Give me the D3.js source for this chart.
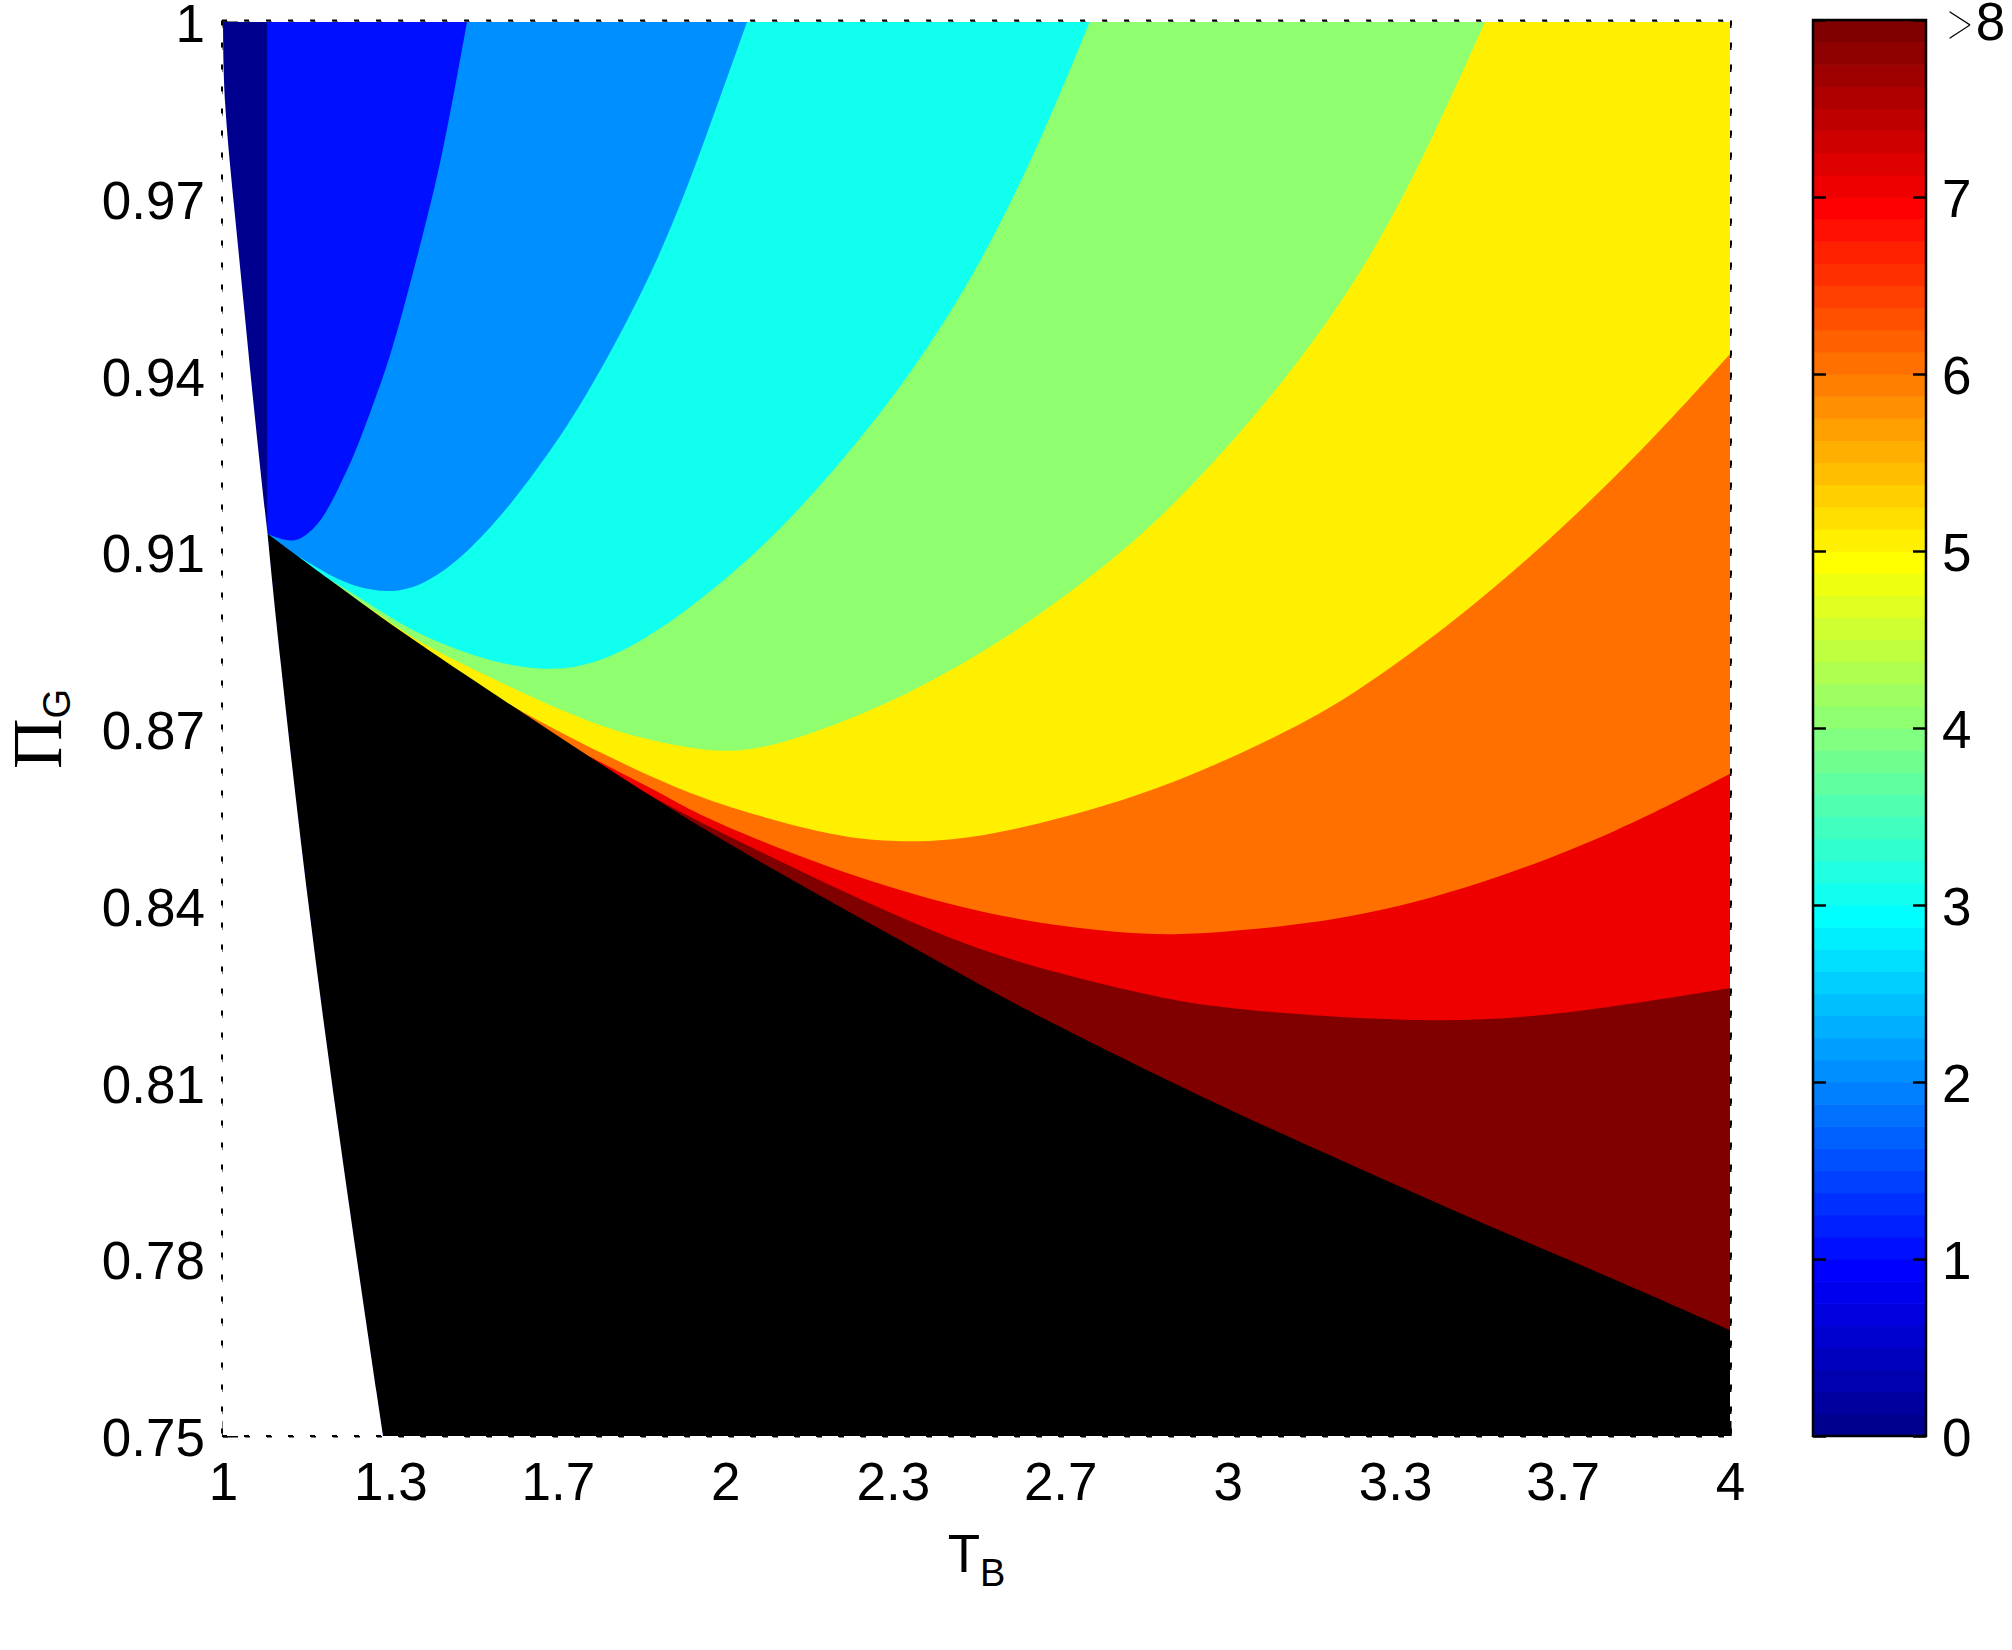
<!DOCTYPE html>
<html>
<head>
<meta charset="utf-8">
<script src="https://cdn.jsdelivr.net/npm/d3@7"></script>
<style>
  body { margin: 0; background: #fff; }
  text { font-family: "Liberation Sans", Arial, Helvetica, sans-serif; fill: #000; }
</style>
</head>
<body>
<svg id="chart" width="2012" height="1650"></svg>
<script>
/* tick values and labels */
var xTicks = [1, 4/3, 5/3, 2, 7/3, 8/3, 3, 10/3, 11/3, 4];
var xTickLabels = ["1", "1.3", "1.7", "2", "2.3", "2.7", "3", "3.3", "3.7", "4"];
var yTicks = [0.75, 0.78125, 0.8125, 0.84375, 0.875, 0.90625, 0.9375, 0.96875, 1];
var yTickLabels = ["0.75", "0.78", "0.81", "0.84", "0.87", "0.91", "0.94", "0.97", "1"];
var cbTicks = [0, 1, 2, 3, 4, 5, 6, 7, 8];
var cbTickLabels = ["0", "1", "2", "3", "4", "5", "6", "7", ">8"];
var levels = [1, 2, 3, 4, 5, 6, 7, 8];

/* contour lines, [T_B, Pi_G] */
var contour1 = [[1.088, 1.0], [1.088, 0.9095]];
var contour2 = [[1.4857, 1.0], [1.4618, 0.9883], [1.4300, 0.9737], [1.3962, 0.9618], [1.3623, 0.9502],
  [1.3305, 0.9401], [1.2966, 0.9318], [1.2628, 0.9237], [1.2309, 0.9177], [1.1971, 0.9118],
  [1.1632, 0.9090], [1.1394, 0.9081], [1.1135, 0.9086], [1.0886, 0.9095]];
var contour3 = [[2.0431, 1.0], [1.9675, 0.9811], [1.8719, 0.9583], [1.7366, 0.9357], [1.6550, 0.9244],
  [1.5594, 0.9131], [1.4857, 0.9062], [1.4240, 0.9018], [1.3524, 0.8988], [1.2588, 0.9000],
  [1.1931, 0.9032], [1.1533, 0.9053]];
var contour4 = [[2.7250, 1.0], [2.6384, 0.9811], [2.5169, 0.9583], [2.3577, 0.9357], [2.1447, 0.9131],
  [2.0073, 0.9018], [1.8699, 0.8924], [1.7704, 0.8875], [1.6808, 0.8853], [1.5912, 0.8859],
  [1.5116, 0.8875], [1.3922, 0.8915], [1.3125, 0.8959], [1.2727, 0.8982], [1.2130, 0.9014]];
var contour5 = [[3.5123, 1.0], [3.4168, 0.9811], [3.2893, 0.9583], [3.1102, 0.9357], [2.8812, 0.9131],
  [2.7280, 0.9018], [2.5488, 0.8903], [2.3696, 0.8813], [2.1905, 0.8746], [2.0372, 0.8705],
  [1.9237, 0.8716], [1.7903, 0.8742], [1.6569, 0.8788], [1.5116, 0.8850], [1.3922, 0.8901],
  [1.3125, 0.8952], [1.2727, 0.8975]];
var contour6 = [[4.0, 0.9413], [3.8408, 0.9256], [3.6417, 0.9083], [3.4426, 0.8933], [3.2435, 0.8806],
  [3.1102, 0.8742], [2.9748, 0.8686], [2.8554, 0.8643], [2.7260, 0.8606], [2.5866, 0.8574],
  [2.4473, 0.8551], [2.3079, 0.8551], [2.2143, 0.8562], [2.0830, 0.8592], [1.9496, 0.8627],
  [1.7903, 0.8691], [1.6709, 0.8744], [1.5813, 0.8788]];
var contour7 = [[4.0, 0.8671], [3.7850, 0.8571], [3.5063, 0.8474], [3.2396, 0.8412], [2.9748, 0.8389],
  [2.8454, 0.8385], [2.6802, 0.8399], [2.4811, 0.8429], [2.2143, 0.8500], [1.9496, 0.8595],
  [1.8699, 0.8638], [1.7903, 0.8673], [1.7306, 0.8701]];
var contour8 = [[4.0, 0.8292], [3.6377, 0.8240], [3.3729, 0.8230], [2.9748, 0.8256], [2.8454, 0.8279],
  [2.6802, 0.8314], [2.4811, 0.8364], [2.2143, 0.8470], [1.9496, 0.8585], [1.8899, 0.8613],
  [1.8301, 0.8643]];

/* edges of the undefined (white) and black regions */
var edgeUpper = [[1.0, 1.0], [1.0014, 0.9860], [1.0213, 0.9681], [1.0412, 0.9502], [1.0637, 0.9295], [1.0886, 0.9095]];
var edgeLower = [[1.0886, 0.9095], [1.1095, 0.8906], [1.1672, 0.8447], [1.2399, 0.7970], [1.3185, 0.75]];
var blackUpper = [[1.0886, 0.9095], [1.2, 0.9022], [1.3782, 0.8906], [1.651, 0.8747], [1.9237, 0.8588],
  [2.2143, 0.8442], [2.4811, 0.8311], [2.6324, 0.8237], [2.9748, 0.8087], [3.2396, 0.7982],
  [3.5063, 0.7876], [3.7711, 0.7777], [4.0, 0.7687]];

var contours = [contour1, contour2, contour3, contour4, contour5, contour6, contour7, contour8];

var svg = d3.select("#chart");
var plot = {left: 223, right: 1730, top: 22, bottom: 1436};
var fontSize = 53;

var x = d3.scaleLinear().domain([1, 4]).range([plot.left, plot.right]);
var y = d3.scaleLinear().domain([0.75, 1]).range([plot.bottom, plot.top]);
var cb = d3.scaleLinear().domain([0, 8]).range([plot.bottom, 20]);

// MATLAB jet(64), row k = 1..64
function jet(k) {
  function ramp(v) { return Math.max(0, Math.min(1, v)); }
  var r = ramp(Math.min((k - 24) / 16, (72 - k) / 16)),
      g = ramp(Math.min((k - 8) / 16, (56 - k) / 16)),
      b = ramp(Math.min((k + 8) / 16, (40 - k) / 16));
  return d3.rgb(r * 255, g * 255, b * 255).toString();
}
function levelColor(v) { return jet(Math.min(64, v * 8 + 1)); }

var smooth = d3.line().x(function(d) { return x(d[0]); }).y(function(d) { return y(d[1]); })
    .curve(d3.curveBasis);
function lineTo(pts) {
  return pts.map(function(d) { return "L" + x(d[0]) + "," + y(d[1]); }).join("");
}

/* grid and ticks sit under the filled contours, like the original */
var width = plot.right - plot.left;
var gy = svg.append("g").attr("transform", "translate(" + plot.left + ",0)")
    .call(d3.axisLeft(y).tickValues(yTicks).tickSize(-width).tickFormat(""));
var gx = svg.append("g").attr("transform", "translate(0," + plot.bottom + ")")
    .call(d3.axisBottom(x).tickValues(xTicks).tickSize(-(plot.bottom - plot.top)).tickFormat(""));
[gy, gx].forEach(function(g) {
  g.select(".domain").remove();
  g.selectAll("line").attr("stroke", "#000").attr("stroke-width", 2).attr("stroke-dasharray", "5,17");
});
var ty = svg.append("g").attr("transform", "translate(" + plot.left + ",0)")
    .call(d3.axisLeft(y).tickValues(yTicks).tickSize(-15).tickFormat(""));
var tx = svg.append("g").attr("transform", "translate(0," + plot.bottom + ")")
    .call(d3.axisBottom(x).tickValues(xTicks).tickSize(-15).tickFormat(""));
[ty, tx].forEach(function(g) {
  g.select(".domain").remove();
  g.selectAll("line").attr("stroke", "#000").attr("stroke-width", 2);
});

/* filled contours */
svg.append("clipPath").attr("id", "clip").append("rect")
    .attr("x", plot.left).attr("y", plot.top)
    .attr("width", width).attr("height", plot.bottom - plot.top);

var fills = svg.append("g").attr("clip-path", "url(#clip)");

fills.append("rect")
    .attr("x", plot.left).attr("y", plot.top)
    .attr("width", width).attr("height", plot.bottom - plot.top)
    .attr("fill", levelColor(0));

var tMax = x.domain()[1], pMin = y.domain()[0], pMax = y.domain()[1];

// each level is filled from its contour towards the lower right; black covers the rest
function levelPath(c) {
  var head = c[0], tail = c[c.length - 1];
  var close = [[tail[0] + 0.25, pMin], [tMax, pMin]];
  if (head[1] === pMax) close.push([tMax, pMax]);
  return smooth(c) + lineTo(close) + "Z";
}

fills.selectAll(".level")
  .data(levels)
  .enter().append("path")
    .attr("class", "level")
    .attr("d", function(d, i) { return levelPath(contours[i]); })
    .attr("fill", function(d) { return levelColor(d); });

var blackPath = smooth(blackUpper)
    + lineTo([[tMax, pMin]])
    + smooth(edgeLower.slice().reverse()).replace("M", "L") + "Z";
fills.append("path").attr("d", blackPath).attr("fill", "#000");

var whitePath = smooth(edgeUpper)
    + smooth(edgeLower).replace("M", "L")
    + lineTo([[x.domain()[0], pMin]]) + "Z";
fills.append("path").attr("d", whitePath).attr("fill", "#fff");

/* dotted box */
var box = svg.append("g").attr("stroke", "#000").attr("stroke-width", 2).attr("stroke-dasharray", "5,17");
box.append("line").attr("x1", plot.left - 1).attr("x2", plot.right + 1).attr("y1", plot.top - 1.5).attr("y2", plot.top - 1.5);
box.append("line").attr("x1", plot.right + 1).attr("x2", plot.right + 1).attr("y1", plot.top - 1.5).attr("y2", plot.bottom);
box.append("line").attr("x1", plot.left - 1).attr("x2", plot.left - 1).attr("y1", plot.top - 1.5).attr("y2", plot.bottom);
box.append("line").attr("x1", plot.left - 1).attr("x2", plot.right + 1).attr("y1", plot.bottom).attr("y2", plot.bottom);

/* tick labels */
var ly = svg.append("g").attr("transform", "translate(" + plot.left + ",0)")
    .call(d3.axisLeft(y).tickValues(yTicks).tickSize(0).tickPadding(18)
      .tickFormat(function(d, i) { return yTickLabels[i]; }));
var lx = svg.append("g").attr("transform", "translate(0," + plot.bottom + ")")
    .call(d3.axisBottom(x).tickValues(xTicks).tickSize(0).tickPadding(26)
      .tickFormat(function(d, i) { return xTickLabels[i]; }));
[ly, lx].forEach(function(g) {
  g.select(".domain").remove();
  g.attr("font-size", null).attr("font-family", null);
  g.selectAll("text").attr("font-size", fontSize).attr("fill", "#000");
});
ly.selectAll("text").attr("dy", "0.37em");

/* axis titles */
var xt = svg.append("text")
    .attr("x", (plot.left + plot.right) / 2).attr("y", 1572)
    .attr("text-anchor", "middle").attr("font-size", fontSize);
xt.append("tspan").text("T");
xt.append("tspan").attr("font-size", 38).attr("dy", 14).text("B");

var yt = svg.append("text")
    .attr("transform", "translate(61," + (plot.top + plot.bottom) / 2 + ") rotate(-90)")
    .attr("text-anchor", "middle");
yt.append("tspan").attr("font-family", "'Liberation Serif', 'Times New Roman', serif")
    .attr("font-size", 70).text("\u03A0");
yt.append("tspan").attr("font-size", 38).attr("dy", 9).text("G");

/* colorbar */
var cbLeft = 1813, cbWidth = 113;
var steps = d3.range(64);
svg.append("g").selectAll("rect")
  .data(steps)
  .enter().append("rect")
    .attr("x", cbLeft)
    .attr("y", function(d) { return cb((d + 1) / 8); })
    .attr("width", cbWidth)
    .attr("height", function(d) { return cb(d / 8) - cb((d + 1) / 8) + 0.6; })
    .attr("fill", function(d) { return jet(d + 1); });

svg.append("rect")
    .attr("x", cbLeft).attr("y", cb(8))
    .attr("width", cbWidth).attr("height", cb(0) - cb(8))
    .attr("fill", "none").attr("stroke", "#000").attr("stroke-width", 2.5);

var cbl = svg.append("g").attr("transform", "translate(" + cbLeft + ",0)")
    .call(d3.axisRight(cb).tickValues(cbTicks).tickSize(13).tickFormat(""));
var cbr = svg.append("g").attr("transform", "translate(" + (cbLeft + cbWidth) + ",0)")
    .call(d3.axisLeft(cb).tickValues(cbTicks).tickSize(13).tickFormat(""));
[cbl, cbr].forEach(function(g) {
  g.select(".domain").remove();
  g.selectAll("line").attr("stroke", "#000").attr("stroke-width", 2.5);
});

var cbLabels = svg.append("g").attr("transform", "translate(" + (cbLeft + cbWidth) + ",0)")
    .call(d3.axisRight(cb).tickValues(cbTicks).tickSize(0).tickPadding(16)
      .tickFormat(function(d, i) { return cbTickLabels[i]; }));
cbLabels.select(".domain").remove();
cbLabels.attr("font-size", null).attr("font-family", null);
cbLabels.selectAll("text").attr("font-size", fontSize).attr("fill", "#000").attr("dy", "0.36em");

// the ">" of the top label is drawn thin, as in the original
cbLabels.selectAll("text").filter(function(d, i) { return cbTickLabels[i].charAt(0) === ">"; })
  .each(function() {
    var t = d3.select(this), label = t.text();
    t.text("");
    t.append("tspan").attr("font-family", "Inter, 'DejaVu Sans', sans-serif").attr("font-weight", 100)
        .text(label.charAt(0));
    t.append("tspan").text(label.slice(1));
  });
</script>
</body>
</html>
